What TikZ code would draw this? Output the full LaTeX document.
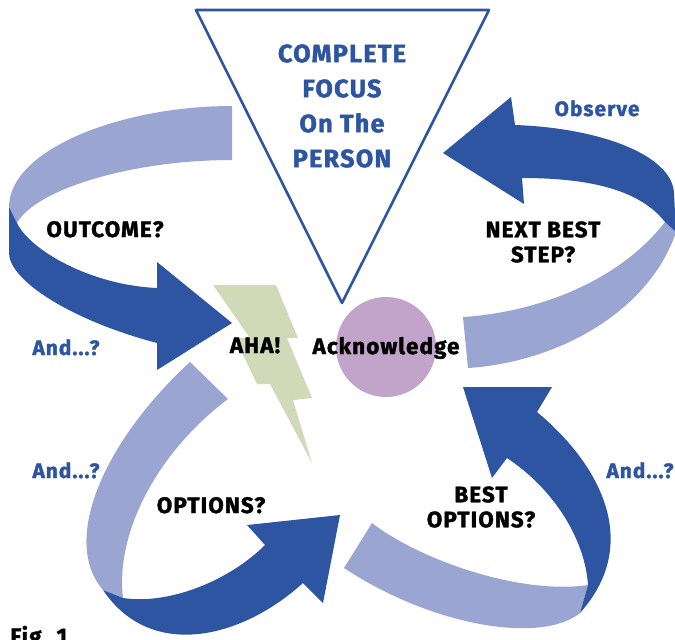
\documentclass[tikz,border=0pt]{standalone}
\usepackage{fontspec}
\setmainfont{Fira Sans}[BoldFeatures={FakeBold=1.6, LetterSpace=5}]
\usetikzlibrary{positioning}
\definecolor{navy}{HTML}{2E55A1}
\definecolor{lilac}{HTML}{9BA5D1}
\definecolor{orchid}{HTML}{C2A3C9}
\definecolor{sage}{HTML}{D0DAB9}
\tikzset{
  every picture/.style={line cap=round, line join=round},
  front/.style={fill=navy, draw=none},
  back/.style={fill=lilac, draw=none},
  cue/.style={font=\bfseries\fontsize{11.2}{12.5}\selectfont, text=black, inner sep=0pt},
  prompt/.style={font=\bfseries\fontsize{10.4}{12}\selectfont, text=navy, inner sep=0pt},
  focus/.style={font=\bfseries\fontsize{12.6}{17.5}\selectfont, text=navy, align=center, inner sep=0pt},
  hub/.style={circle, fill=orchid, minimum size=50pt, inner sep=0pt},
  funnel/.style={draw=navy, line width=1.3pt, fill=white},
  bolt/.style={fill=sage, draw=none}
}

\begin{document}
\begin{tikzpicture}[x=0.5pt, y=-0.5pt]
  \useasboundingbox (0,0) rectangle (675,639);
  \clip (0,0) rectangle (675,639);

  % Outcome arrow (top left)
  \fill[back] (232,106) .. controls (120,106) and (9,150) .. (9,207)
    -- (17,223) .. controls (35,190) and (130,160) .. (232,160) -- cycle;
  \fill[front] (9,207) -- (17,223) .. controls (30,250) and (90,285) .. (157,288)
    -- (157,262) -- (232,323) -- (157,370) -- (157,343)
    .. controls (70,320) and (9,280) .. (9,253) -- cycle;

  % Next step arrow (top right)
  \fill[back] (665,222) .. controls (620,280) and (540,312) .. (463,317)
    -- (468,368) .. controls (560,362) and (650,310) .. (676,232) -- cycle;
  \fill[front] (665,222) .. controls (640,190) and (590,178) .. (522,178)
    -- (524,204) -- (443,153) -- (511,97) -- (515,125)
    .. controls (600,128) and (672,155) .. (674,193) -- (676,232) -- cycle;

  % Options arrow (bottom left)
  \fill[back] (190,362) .. controls (105,440) and (60,540) .. (103,590)
    -- (123,598) .. controls (115,530) and (160,450) .. (228,399) -- cycle;
  \fill[front] (103,590) -- (123,598) .. controls (170,605) and (230,580) .. (265,545)
    -- (247,525) -- (340,515) -- (323,603) -- (303,583)
    .. controls (240,640) and (150,660) .. (103,590) -- cycle;

  % Best options arrow (bottom right)
  \fill[back] (372,523) .. controls (420,560) and (520,595) .. (588,585)
    -- (580,613) .. controls (540,645) and (430,625) .. (344,568) -- cycle;
  \fill[front] (580,613) -- (588,585) .. controls (585,540) and (555,490) .. (507,458)
    -- (492,478) -- (463,387) -- (552,387) -- (537,412)
    .. controls (595,460) and (645,540) .. (580,613) -- cycle;

  % Lightning
  \fill[bolt] (213,285) -- (276,285) -- (298,338) -- (287,338) -- (312,398)
    -- (293,400) -- (312,463) -- (270,384) -- (257,384) -- (235,338)
    -- (250,338) -- cycle;

  % Focus triangle
  \draw[funnel] (196,10) -- (489,10) -- (342,303) -- cycle;
  \node[focus] (focus) at (342,106) {COMPLETE\\FOCUS\\On The\\PERSON};

  % Centre
  \node[hub] (hub) at (386,347) {};
  \node[cue, anchor=base] (ack) at (386,354) {Acknowledge};
  \node[cue, anchor=base] (aha) at (255,353) {AHA!};

  % Questions
  \node[cue, anchor=base] (outcome) at (105,237) {OUTCOME?};
  \node[cue, align=center] (nextstep) at (543,242) {NEXT BEST\\STEP?};
  \node[cue, anchor=base] (options) at (211,513) {OPTIONS?};
  \node[cue, align=center] (bestoptions) at (481,507) {BEST\\OPTIONS?};

  % Side prompts
  \node[prompt, anchor=base] (observe) at (597,116) {Observe};
  \node[prompt, anchor=base] (andA) at (66,355) {And...?};
  \node[prompt, anchor=base] (andB) at (66,478) {And...?};
  \node[prompt, anchor=base] (andC) at (640,478) {And...?};

  \node[cue, anchor=base west] (figlabel) at (10,644) {Fig. 1};
\end{tikzpicture}
\end{document}
